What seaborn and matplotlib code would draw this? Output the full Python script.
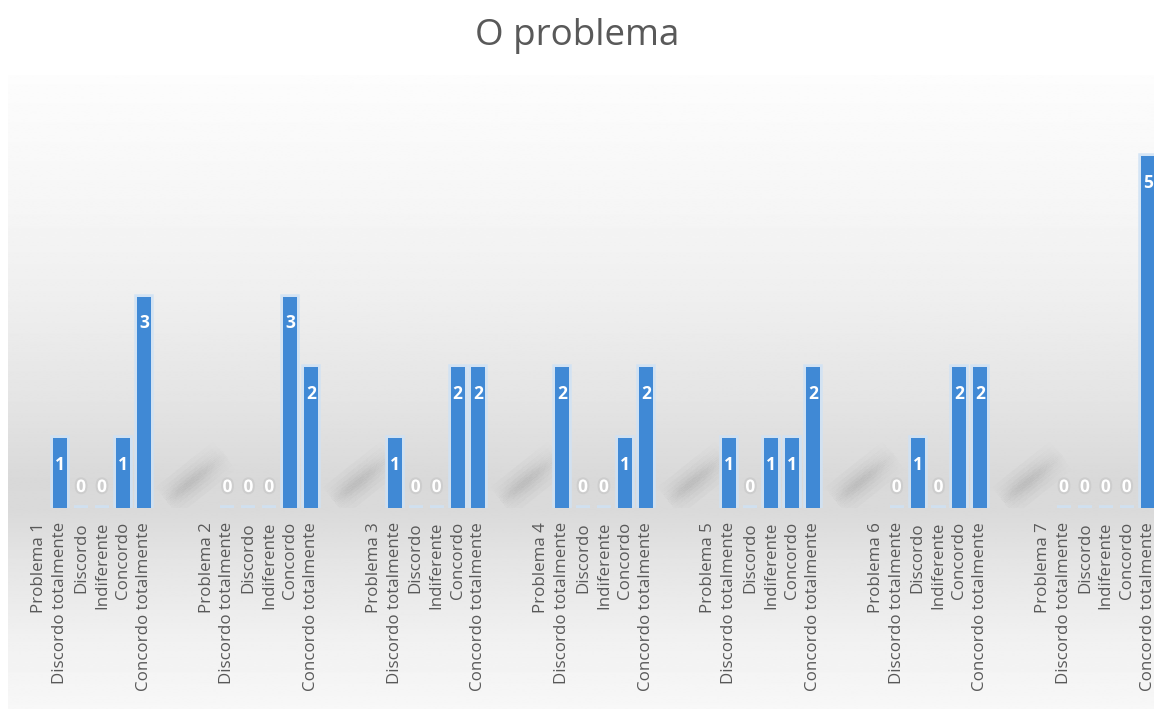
import numpy as np
import pandas as pd
import matplotlib
matplotlib.use("Agg")
import matplotlib.pyplot as plt
from matplotlib import patheffects as pe
from matplotlib.collections import LineCollection
import seaborn as sns

# --- data -------------------------------------------------------------
problemas = ["Problema 1", "Problema 2", "Problema 3", "Problema 4",
             "Problema 5", "Problema 6", "Problema 7"]
respostas = ["Discordo totalmente", "Discordo", "Indiferente",
             "Concordo", "Concordo totalmente"]
p1 = [1, 0, 0, 1, 3]
p2 = [0, 0, 0, 3, 2]
p3 = [1, 0, 0, 2, 2]
p4 = [2, 0, 0, 1, 2]
p5 = [1, 0, 1, 1, 2]
p6 = [0, 1, 0, 2, 2]
p7 = [0, 0, 0, 0, 5]
contagens = [p1, p2, p3, p4, p5, p6, p7]

df = pd.DataFrame(
    [(prob, resp, v)
     for prob, vals in zip(problemas, contagens)
     for resp, v in zip(respostas, vals)],
    columns=["problema", "resposta", "contagem"],
)

# --- style ------------------------------------------------------------
sns.set_theme(style="white")
plt.rcParams["font.family"] = ["Open Sans", "DejaVu Sans"]
AZUL = "#4089d5"
CINZA_TXT = "#595959"

W, H = 1154, 709
fig = plt.figure(figsize=(W / 100, H / 100), dpi=100)
fig.patch.set_facecolor("white")

# gradient backdrop of the chart area
bg = fig.add_axes([8 / W, 0, 1 - 8 / W, (H - 75) / H], zorder=0)
bg.axis("off")
stops_y = np.array([75, 200, 300, 400, 480, 512, 560, 640, 709])
stops_v = np.array([0.99, 0.965, 0.935, 0.895, 0.85, 0.855, 0.895, 0.945, 0.97])
rows = np.linspace(75, 709, 400)
vals = np.interp(rows, stops_y, stops_v)
img = np.repeat(vals[:, None], 2, axis=1)
bg.imshow(img, aspect="auto", cmap="gray", vmin=0, vmax=1,
          extent=[0, 1, 0, 1], origin="upper", interpolation="bilinear")
bg.set_xlim(0, 1)
bg.set_ylim(0, 1)

# main plotting axes
base_y = 508
top_y = 85
ax = fig.add_axes([0, (H - base_y) / H, 1, (base_y - top_y) / H], zorder=1)
ax.set_facecolor("none")

sns.barplot(data=df, x="problema", y="contagem", hue="resposta",
            order=problemas, hue_order=respostas, palette=[AZUL] * 5,
            width=0.625, gap=0.33, saturation=1, errorbar=None,
            legend=False, linewidth=0, ax=ax)

halo = [pe.Stroke(linewidth=4, foreground="#cfe2f5", alpha=0.85), pe.Normal()]
for bar in ax.patches:
    bar.set_path_effects(halo)
    bar.set_zorder(3)

# value labels
for bar in list(ax.patches):
    h = bar.get_height()
    xc = bar.get_x() + bar.get_width() / 2
    if h > 0:
        ax.annotate(f"{h:.0f}", (xc, h), xytext=(0, -27),
                    textcoords="offset pixels", ha="center", va="center",
                    color="white", fontsize=12.5, fontweight="bold", zorder=5)
    else:
        ax.annotate(f"{h:.0f}", (xc, h), xytext=(0, 21),
                    textcoords="offset pixels", ha="center", va="center",
                    color="white", fontsize=12.5, fontweight="bold", zorder=5,
                    path_effects=[pe.withStroke(linewidth=3,
                                                foreground="#cdcdcd")])

# soft diagonal shadows in the gaps between groups
def sombra(ax, x0, y0, x1, y1):
    t = np.linspace(0, 1, 61)
    pts = np.column_stack([x0 + (x1 - x0) * t, y0 + (y1 - y0) * t])
    pts = pts.reshape(-1, 1, 2)
    segs = np.concatenate([pts[:-1], pts[1:]], axis=1)
    tm = (t[:-1] + t[1:]) / 2
    prof = np.sin(np.pi * tm ** 0.75) ** 1.3
    for lw, a in [(26, 0.03), (19, 0.035), (13, 0.04), (8, 0.045), (4, 0.04)]:
        cols = np.zeros((len(segs), 4))
        cols[:, :3] = 0.35
        cols[:, 3] = a * prof
        ax.add_collection(LineCollection(segs, colors=cols, linewidths=lw,
                                         capstyle="butt", zorder=2))

for g in range(len(problemas)):
    sombra(ax, g + 0.38, 0.08, g + 0.75, 0.78)

# category labels: problem name followed by the five answers
pos, labs = [], []
for g, prob in enumerate(problemas):
    pos.append(g - 0.375)
    labs.append(prob)
    for k, resp in enumerate(respostas):
        pos.append(g + (k - 2) * 0.125)
        labs.append(resp)
ax.set_xticks(pos, labs, rotation=90)
ax.tick_params(axis="x", length=0, pad=10, labelsize=12.2, labelcolor=CINZA_TXT)
ax.set_yticks([])
ax.set_xlabel("")
ax.set_ylabel("")
for s in ax.spines.values():
    s.set_visible(False)

ax.set_xlim(-102 / 167.3, (W - 102) / 167.3)
ax.set_ylim(0, 6)

fig.text(0.5, 1 - 36 / H, "O problema", ha="center", va="center",
         fontsize=26.5, color=CINZA_TXT)

fig.savefig("out.png", dpi=100, facecolor="white")
